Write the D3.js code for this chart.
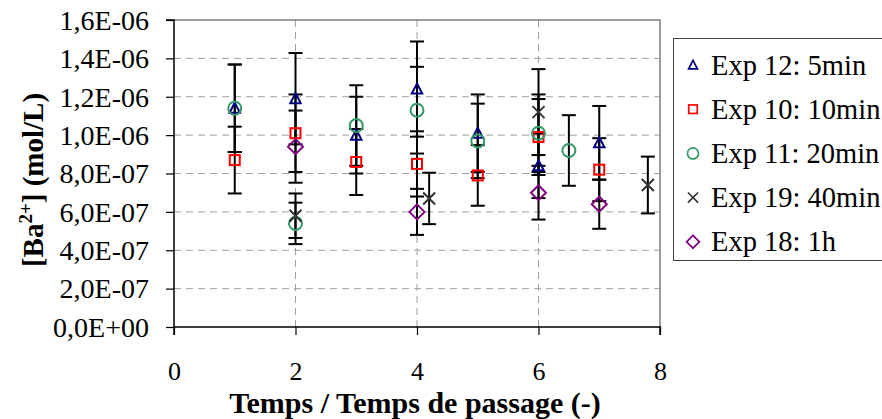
<!DOCTYPE html>
<html><head><meta charset="utf-8">
<script src="https://cdn.jsdelivr.net/npm/d3@7"></script>
<style>body{margin:0;background:#fff;overflow:hidden}svg{display:block}</style>
</head><body>
<svg id="c" width="882" height="419"></svg>
<script>
// Data (values in mol/L)
const seriesNames = ["Exp 12: 5min","Exp 10: 10min","Exp 11: 20min","Exp 19: 40min","Exp 18: 1h"];
const exp12X = [1,2,3,4,5,6,7];
const exp12Y = [1.14e-6,1.19e-6,1.00e-6,1.24e-6,1.01e-6,0.84e-6,0.96e-6];
const exp10X = [1,2,3,4,5,6,7];
const exp10Y = [0.87e-6,1.01e-6,0.86e-6,0.85e-6,0.79e-6,0.99e-6,0.82e-6];
const exp11X = [1,2,3,4,5,6,6.5];
const exp11Y = [1.14e-6,0.54e-6,1.05e-6,1.13e-6,0.97e-6,1.01e-6,0.92e-6];
const exp19X = [2,4.2,6,7.8];
const exp19Y = [0.58e-6,0.67e-6,1.12e-6,0.74e-6];
const exp18X = [2,4,6,7];
const exp18Y = [0.94e-6,0.60e-6,0.70e-6,0.64e-6];
const errorPercent = 20; // error bars: ±20 % of value
const xTicks = [0,2,4,6,8];
const yTicks = [0,2e-7,4e-7,6e-7,8e-7,1e-6,1.2e-6,1.4e-6,1.6e-6];
const yTickLabels = ["0,0E+00","2,0E-07","4,0E-07","6,0E-07","8,0E-07","1,0E-06","1,2E-06","1,4E-06","1,6E-06"];

const seriesX = [exp12X,exp10X,exp11X,exp19X,exp18X];
const seriesY = [exp12Y,exp10Y,exp11Y,exp19Y,exp18Y];
const colors = ["#000080","#ff0000","#339966","#333333","#800080"];
const shapes = ["triangle","square","circle","cross","diamond"];
const FONT = "'Liberation Serif', 'Times New Roman', Times, serif";

const svg = d3.select("#c");
const L=174, R=660, T=20, B=327;
const x = d3.scaleLinear().domain([0,8]).range([L,R]);
const y = d3.scaleLinear().domain([0,1.6e-6]).range([B,T]);

// grid
const g = svg.append("g");
g.selectAll("line.hg").data(yTicks.filter(v=>v>0 && v<1.6e-6)).join("line")
  .attr("x1",L).attr("x2",R).attr("y1",d=>y(d)).attr("y2",d=>y(d))
  .attr("stroke","#a0a0a0").attr("stroke-width",1).attr("stroke-dasharray","7,5");
g.selectAll("line.vg").data(xTicks.filter(v=>v>0 && v<8)).join("line")
  .attr("y1",T).attr("y2",B).attr("x1",d=>x(d)).attr("x2",d=>x(d))
  .attr("stroke","#a0a0a0").attr("stroke-width",1).attr("stroke-dasharray","7,5");
// top/right border
svg.append("path").attr("d",`M${L},${T}H${R}V${B}`).attr("fill","none").attr("stroke","#808080").attr("stroke-width",1.5);

// axes
const yAxis = d3.axisLeft(y).tickValues(yTicks).tickFormat((d,i)=>yTickLabels[i]).tickSize(8).tickPadding(17);
const ya = svg.append("g").attr("transform",`translate(${L},0)`).call(yAxis);
const xAxis = d3.axisBottom(x).tickValues(xTicks).tickFormat(d3.format("d")).tickSize(8);
const xa = svg.append("g").attr("transform",`translate(0,${B})`).call(xAxis);
[ya,xa].forEach(a=>{
  a.attr("font-family",null).attr("font-size",null);
  a.select(".domain").attr("stroke","#000").attr("stroke-width",1.5);
  a.selectAll(".tick line").attr("stroke","#000").attr("stroke-width",1.2);
  a.selectAll(".tick text").style("font-family",FONT).attr("fill","#000");
});
ya.selectAll(".tick text").style("font-size","28px").attr("dy","0.33em");
xa.selectAll(".tick text").style("font-size","26px").attr("y",53).attr("dy",0);
ya.select(".domain").attr("d",`M-8,${y(1.6e-6)}H0V${B}`);
xa.select(".domain").attr("d",`M${L},8V0H${R}V8`);

// error bars
const eb = svg.append("g");
seriesX.forEach((xs,si)=>{
  xs.forEach((xv,i)=>{
    const v = seriesY[si][i], e = v*errorPercent/100;
    const cx = x(xv), y1 = y(v+e), y2 = y(v-e);
    eb.append("line").attr("x1",cx).attr("x2",cx).attr("y1",y1).attr("y2",y2).attr("stroke","#000").attr("stroke-width",2);
    [y1,y2].forEach(yy=>eb.append("line").attr("x1",cx-7).attr("x2",cx+7).attr("y1",yy).attr("y2",yy).attr("stroke","#000").attr("stroke-width",2));
  });
});

function marker(sel, shape, color){
  if(shape==="triangle") sel.append("path").attr("d","M0,-5.5L5.2,4.5H-5.2Z");
  else if(shape==="square") sel.append("rect").attr("x",-5).attr("y",-5).attr("width",10).attr("height",10);
  else if(shape==="circle") sel.append("circle").attr("r",6.5);
  else if(shape==="cross") sel.append("path").attr("d","M-6,-6L6,6M-6,6L6,-6");
  else sel.append("path").attr("d","M0,-7.5L7.5,0L0,7.5L-7.5,0Z");
  sel.selectAll("*").attr("fill","none").attr("stroke",color).attr("stroke-width",2);
}
const mk = svg.append("g");
seriesX.forEach((xs,si)=>{
  xs.forEach((xv,i)=>{
    const gg = mk.append("g").attr("transform",`translate(${x(xv)},${y(seriesY[si][i])})`);
    marker(gg, shapes[si], colors[si]);
  });
});

// legend
const lg = svg.append("g");
lg.append("rect").attr("x",673.5).attr("y",38.5).attr("width",220).attr("height",222).attr("fill","#fff").attr("stroke","#404040").attr("stroke-width",1);
seriesNames.forEach((n,i)=>{
  const yy = 65 + i*44.2;
  const gg = lg.append("g");
  marker(gg, shapes[i], colors[i]);
  gg.attr("transform",`translate(693,${yy}) scale(0.85)`);
  lg.append("text").attr("x",711).attr("y",yy+9.5).style("font-size","28.5px").style("font-family",FONT).attr("fill","#000").text(n);
});

// axis titles
const yt = svg.append("text").attr("transform","translate(43,180) rotate(-90)").attr("text-anchor","middle")
  .style("font-size","29px").style("font-family",FONT).attr("font-weight","bold").attr("fill","#000");
yt.append("tspan").text("[Ba");
yt.append("tspan").style("font-size","19px").attr("dy",-11).text("2+");
yt.append("tspan").attr("dy",11).text("] (mol/L)");
svg.append("text").attr("x",415).attr("y",413).attr("text-anchor","middle").style("font-size","30px").style("font-family",FONT).attr("font-weight","bold").attr("fill","#000")
  .text("Temps / Temps de passage (-)");
</script>
</body></html>
